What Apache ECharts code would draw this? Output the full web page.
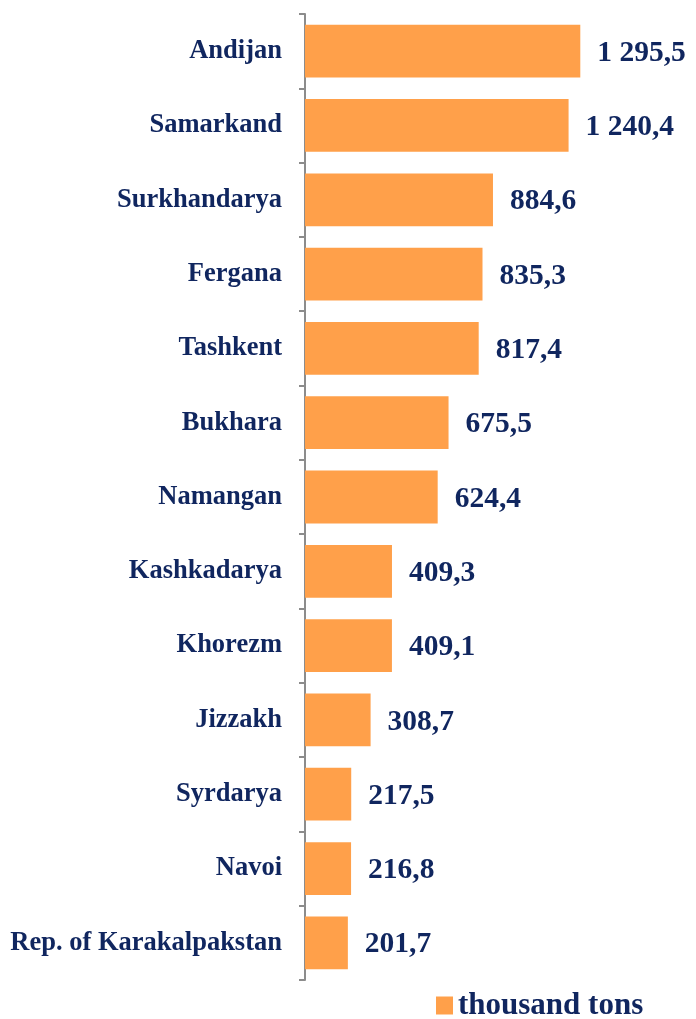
<html lang="en">
<head>
  <meta charset="UTF-8">
  <title>Regions, thousand tons</title>
  <script src="https://cdn.jsdelivr.net/npm/echarts@6/dist/echarts.min.js"></script>
  <style>
    body { margin: 0; padding: 0; background: #fff; }
    #chart { width: 696px; height: 1019px; }
  </style>
</head>
<body>
  <div id="chart"></div>
  <script>
    let regions = [
      'Andijan', 'Samarkand', 'Surkhandarya', 'Fergana', 'Tashkent', 'Bukhara',
      'Namangan', 'Kashkadarya', 'Khorezm', 'Jizzakh', 'Syrdarya', 'Navoi',
      'Rep. of Karakalpakstan'
    ];
    let values = [1295.5, 1240.4, 884.6, 835.3, 817.4, 675.5, 624.4, 409.3, 409.1, 308.7, 217.5, 216.8, 201.7];
    let seriesName = 'thousand tons';

    const navy = '#10265f';
    const orange = '#ffa04a';

    // 1295.5 -> "1 295,5"
    function fmt(v) {
      let parts = v.toFixed(1).split('.');
      let intPart = parts[0].replace(/\B(?=(\d{3})+(?!\d))/g, ' ');
      return intPart + ',' + parts[1];
    }

    let myChart = echarts.init(document.getElementById('chart'));

    let option = {
      animation: false,
      grid: { left: 305, top: 14, width: 340, bottom: 39, containLabel: false },
      xAxis: {
        type: 'value',
        min: 0,
        max: 1600,
        show: false
      },
      yAxis: {
        type: 'category',
        data: regions,
        inverse: true,
        axisLine: { show: true, lineStyle: { color: '#8c8c8c', width: 2 } },
        axisTick: { show: true, length: 6, lineStyle: { color: '#8c8c8c', width: 2 } },
        axisLabel: {
          margin: 23,
          color: navy,
          fontFamily: 'Liberation Serif',
          fontWeight: 'bold',
          fontSize: 26.5
        },
        splitLine: { show: false }
      },
      legend: {
        data: [seriesName],
        left: 431,
        top: 985,
        itemWidth: 17,
        itemHeight: 18,
        icon: 'rect',
        textStyle: {
          color: navy,
          fontFamily: 'Liberation Serif',
          fontWeight: 'bold',
          fontSize: 31
        }
      },
      series: [
        {
          name: seriesName,
          type: 'bar',
          data: values,
          barCategoryGap: '29%',
          itemStyle: { color: orange },
          label: {
            show: true,
            position: 'right',
            distance: 17,
            offset: [0, 2],
            color: navy,
            fontFamily: 'Liberation Serif',
            fontWeight: 'bold',
            fontSize: 29.5,
            formatter: function (p) { return fmt(p.value); }
          }
        }
      ]
    };

    myChart.setOption(option);
  </script>
</body>
</html>
